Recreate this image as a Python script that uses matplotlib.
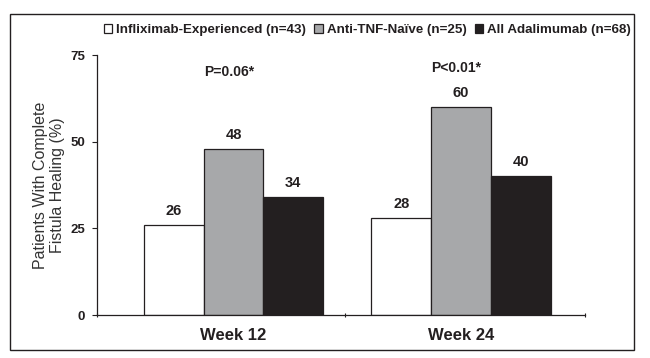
import matplotlib.pyplot as plt
import numpy as np
from matplotlib.patches import Rectangle

weeks = ["Week 12", "Week 24"]
series = ["Infliximab-Experienced (n=43)", "Anti-TNF-Naïve (n=25)", "All Adalimumab (n=68)"]
values = [[26, 28], [48, 60], [34, 40]]
colors = ["white", "#a7a8aa", "#231f20"]
pvals = ["P=0.06*", "P<0.01*"]
pval_y = [70.2, 71.4]
yticks = [0, 25, 50, 75]

plt.rcParams['font.family'] = ['Liberation Sans', 'DejaVu Sans']
ink = "#231f20"

fig = plt.figure(figsize=(6.5, 3.58), dpi=100)
ax = fig.add_axes([97 / 650, 0.12, 488 / 650, 0.726])

x = np.arange(len(weeks))
w = 0.263
for i, (name, vals, c) in enumerate(zip(series, values, colors)):
    pos = x + (i - 1) * w
    ax.bar(pos, vals, w, color=c, edgecolor=ink, linewidth=0.9, label=name)
    for xp, v in zip(pos, vals):
        ax.text(xp, v + 2, str(v), ha='center', va='bottom', fontsize=10.5,
                fontweight='bold', color=ink)

for xp, p, py in zip(x, pvals, pval_y):
    ax.text(xp - 0.02, py, p, ha='center', va='center', fontsize=10,
            fontweight='bold', color=ink)

ax.set_xlim(-0.6, 1.545)
ax.set_ylim(0, 75)
ax.set_yticks(yticks)
ax.set_yticklabels([str(t) for t in yticks], fontsize=9.5, fontweight='bold', color=ink)
ax.set_xticks([-0.6, 0.49, 1.545])
ax.set_xticklabels(["", "", ""])
ax.set_xticks(x, minor=True)
ax.set_xticklabels(weeks, minor=True, fontsize=12, fontweight='bold', color=ink)
ax.tick_params(axis='x', which='minor', length=0, pad=9)
ax.tick_params(axis='x', which='major', length=3.5, direction='inout', color=ink)
ax.tick_params(axis='y', length=3.6, direction='out', pad=5, color=ink)
for s in ['top', 'right']:
    ax.spines[s].set_visible(False)
for s in ['left', 'bottom']:
    ax.spines[s].set_linewidth(0.9)
    ax.spines[s].set_color(ink)

ax.set_ylabel("Patients With Complete\nFistula Healing (%)", fontsize=11.5,
              color="#333333", linespacing=1.15, labelpad=4)

fig.legend(loc='center right', bbox_to_anchor=(631 / 650, 1 - 30 / 358), ncol=3,
           frameon=False, prop={'size': 9.6, 'weight': 'bold'}, labelcolor=ink,
           handlelength=0.65, handleheight=0.65, handletextpad=0.3, columnspacing=0.6,
           borderpad=0, borderaxespad=0)

fig.patches.append(Rectangle((10 / 650, 1 - 350 / 358), 624 / 650, 336 / 358,
                             transform=fig.transFigure, fill=False, edgecolor=ink,
                             linewidth=1))

fig.savefig("out.png", dpi=100)
